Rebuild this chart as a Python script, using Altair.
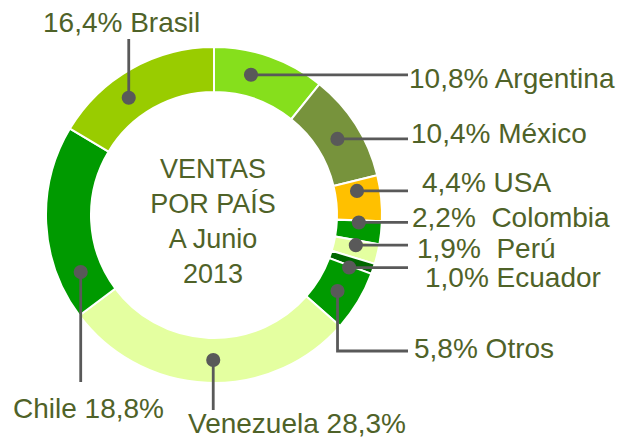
import math
import altair as alt
import pandas as pd

# ---- data ----
countries = ["Argentina", "México", "USA", "Colombia", "Perú", "Ecuador",
             "Otros", "Venezuela", "Chile", "Brasil"]
shares = [10.8, 10.4, 4.4, 2.2, 1.9, 1.0, 5.8, 28.3, 18.8, 16.4]
labels = ["10,8% Argentina", "10,4% México", "4,4% USA", "2,2%\u00a0 Colombia",
          "1,9%\u00a0 Perú", "1,0% Ecuador", "5,8% Otros", "Venezuela 28,3%",
          "Chile 18,8%", "16,4% Brasil"]
center_lines = ["VENTAS", "POR PAÍS", "A Junio", "2013"]

# ---- styles ----
colors = ["#86DF1C", "#77933C", "#FFC000", "#009A00", "#E4FFA0", "#006600",
          "#009A00", "#E4FFA0", "#009A00", "#99CC00"]
TEXT = "#4F6228"
GREY = "#595959"
FONT = "Arial"

# ---- layout ----
W, H = 611, 432
CX, CY = 206, 207
R_IN, R_OUT = 123, 168
R_DOT = 145
dot_frac = [0.38, 0.52, 0.26, 0.1, 0.28, 1.2, 0.53, 0.48, 0.2, 0.39]
label_x = [401, 403, 414, 404, 409, 417, 406, 180, 5, 35]
label_y = [80, 135, 184, 219, 250, 279, 350, 425, 410, 24]
# leader waypoints after the dot (None = keep dot coordinate)
leaders = [[(400, None)], [(400, None)], [(400, None)], [(400, None)],
           [(400, None)], [(400, None)], [(None, 343), (400, 343)],
           [(None, 402)], [(None, 374)], [(None, 31)]]

total = sum(shares)
arc_df = pd.DataFrame({"country": countries, "share": shares,
                       "idx": list(range(len(countries)))})

dots, lines = [], []
cum = 0.0
for i, (c, s) in enumerate(zip(countries, shares)):
    start = cum / total * 2 * math.pi
    span = s / total * 2 * math.pi
    cum += s
    a = start + dot_frac[i] * span
    dx = CX + R_DOT * math.sin(a)
    dy = CY - R_DOT * math.cos(a)
    dots.append({"country": c, "x": dx, "y": dy})
    pts = [(dx, dy)]
    for (px, py) in leaders[i]:
        pts.append((dx if px is None else px, dy if py is None else py))
    for k, (px, py) in enumerate(pts):
        lines.append({"country": c, "seq": k, "x": px, "y": py})

dot_df = pd.DataFrame(dots)
line_df = pd.DataFrame(lines)
label_df = pd.DataFrame({"label": labels, "x": label_x, "y": label_y})
center_df = pd.DataFrame({"t": center_lines,
                          "y": [170 + 35 * i for i in range(len(center_lines))]})

ring = alt.Chart(arc_df).mark_arc(
    innerRadius=R_IN, outerRadius=R_OUT, stroke="white", strokeWidth=2
).encode(
    theta=alt.Theta("share:Q", stack=True),
    color=alt.Color("country:N", scale=alt.Scale(domain=countries, range=colors),
                    legend=None),
    order=alt.Order("idx:Q"),
    x=alt.value(CX),
    y=alt.value(CY),
)

leader_lines = alt.Chart(line_df).mark_line(
    color=GREY, strokeWidth=2.8, strokeCap="butt", strokeJoin="miter"
).encode(
    x=alt.X("x:Q", scale=None),
    y=alt.Y("y:Q", scale=None),
    detail="country:N",
    order="seq:Q",
)

dot_marks = alt.Chart(dot_df).mark_circle(
    color=GREY, opacity=1, size=200
).encode(
    x=alt.X("x:Q", scale=None),
    y=alt.Y("y:Q", scale=None),
)

label_text = alt.Chart(label_df).mark_text(
    align="left", baseline="alphabetic", font=FONT, fontSize=28, color=TEXT
).encode(
    x=alt.X("x:Q", scale=None),
    y=alt.Y("y:Q", scale=None),
    text="label:N",
)

center_text = alt.Chart(center_df).mark_text(
    align="center", baseline="alphabetic", font=FONT, fontSize=27, color=TEXT
).encode(
    x=alt.value(CX - 1),
    y=alt.Y("y:Q", scale=None),
    text="t:N",
)

chart = alt.layer(ring, leader_lines, dot_marks, label_text, center_text).properties(
    width=W, height=H, padding=0, autosize=alt.AutoSizeParams(type="none")
).configure_view(stroke=None).configure_axis(disable=True)

chart.save("out.html", embed_options={"renderer": "svg", "actions": False})
